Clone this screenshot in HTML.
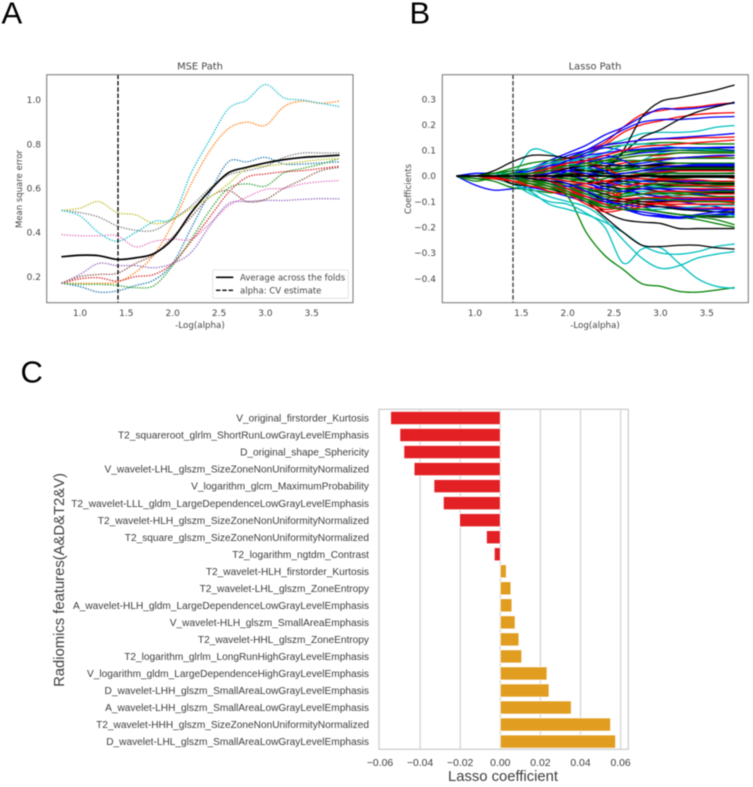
<!DOCTYPE html>
<html lang="en">
<head>
<meta charset="utf-8">
<title>Radiomics LASSO figure</title>
<style>
html,body{margin:0;padding:0;background:#fff;width:753px;height:787px;overflow:hidden}
svg{display:block;filter:blur(0.4px)}
.dj{font-family:"DejaVu Sans",sans-serif;fill:#454545}
.li{font-family:"Liberation Sans",sans-serif;fill:#3e3e3e}
.panel{font-family:"Liberation Sans",sans-serif;fill:#000;font-size:31px}
</style>
</head>
<body>
<svg id="fig" xmlns="http://www.w3.org/2000/svg" width="753" height="787" viewBox="0 0 753 787">
  <rect width="753" height="787" fill="#fff"/>
  <text class="panel" x="1.5" y="23.5">A</text>
  <text class="panel" x="409.5" y="23.5">B</text>
  <text class="panel" x="20.5" y="382.5">C</text>

  <g id="chartA">
    <text class="dj" x="200" y="69.5" font-size="9.9" text-anchor="middle">MSE Path</text>
    <text class="dj" x="200" y="328" font-size="8.7" text-anchor="middle">-Log(alpha)</text>
    <text class="dj" transform="translate(22,189) rotate(-90)" font-size="8.5" text-anchor="middle">Mean square error</text>
  </g>
  <g id="chartB">
    <text class="dj" x="595" y="69.5" font-size="9.9" text-anchor="middle">Lasso Path</text>
    <text class="dj" x="595" y="328" font-size="8.7" text-anchor="middle">-Log(alpha)</text>
    <text class="dj" transform="translate(411,189) rotate(-90)" font-size="8.5" text-anchor="middle">Coefficients</text>
  </g>
  <g id="chartC">
    <text class="li" transform="translate(64,580) rotate(-90)" font-size="14.8" text-anchor="middle">Radiomics features(A&amp;D&amp;T2&amp;V)</text>
    <text class="li" x="503" y="781" font-size="14.8" text-anchor="middle">Lasso coefficient</text>
  </g>
</svg>
<script>
// ---------- Panel A data ----------
const alphaGrid = [0.8,1.0,1.2,1.4,1.6,1.8,2.0,2.2,2.4,2.6,2.8,3.0,3.2,3.4,3.6,3.8];
const mseMean   = [.29,.297,.295,.278,.285,.305,.37,.49,.59,.67,.695,.715,.73,.74,.745,.75];
const mseBlue   = [.17,.155,.13,.135,.16,.185,.26,.42,.58,.72,.72,.74,.71,.71,.715,.72];
const mseOrange = [.17,.17,.17,.175,.22,.30,.44,.62,.77,.87,.90,.885,.97,.995,.985,.995];
const mseGreen  = [.17,.165,.165,.16,.15,.16,.25,.37,.50,.60,.62,.61,.67,.69,.71,.735];
const mseRed    = [.17,.19,.195,.18,.20,.21,.26,.36,.47,.58,.65,.665,.675,.68,.69,.70];
const msePurple = [.17,.21,.26,.25,.25,.24,.26,.31,.43,.53,.54,.545,.545,.55,.553,.552];
const mseBrown  = [.17,.20,.21,.215,.26,.30,.38,.47,.56,.59,.54,.55,.60,.64,.68,.695];
const msePink   = [.39,.385,.385,.385,.335,.36,.37,.37,.44,.52,.56,.595,.60,.62,.63,.635];
const mseGray   = [.50,.49,.47,.43,.41,.41,.46,.52,.60,.66,.68,.70,.74,.76,.76,.76];
const mseOlive  = [.50,.51,.54,.49,.48,.44,.46,.51,.56,.62,.69,.70,.71,.72,.73,.735];
const mseCyan   = [.50,.475,.40,.36,.40,.45,.47,.67,.82,.96,1.0,1.07,1.01,1.0,.985,.97];
const mseTicksX = [1.0,1.5,2.0,2.5,3.0,3.5];
const mseTicksY = [0.2,0.4,0.6,0.8,1.0];
const alphaCV   = [1.41];

// ---------- Panel B data ----------
const lassoBlue = [
[0,-.035,-.055,-.05,-.045,-.06,-.08,-.10,-.12,-.13,-.15,-.16,-.165,-.16,-.155,-.15],
[0,.01,.01,.02,.03,.06,.09,.12,.16,.19,.23,.262,.26,.265,.275,.285],
[0,0,0,0,.02,.04,.07,.10,.14,.18,.21,.22,.22,.225,.23,.232],
[0,0,0,.01,.03,.05,.08,.10,.12,.13,.14,.145,.15,.155,.16,.166],
[0,0,0,0,.01,.03,.05,.09,.11,.10,.10,.105,.11,.11,.112,.113],
[0,0,0,0,.01,.02,.04,.05,.07,.08,.09,.095,.10,.10,.10,.10],
[0,0,0,0,-.01,.01,.03,.03,.02,.03,.04,.05,.05,.05,.05,.05],
[0,0,0,0,0,-.01,.01,.02,0,-.01,.01,.02,.02,.03,.03,.03],
[0,0,0,-.01,0,.02,.02,0,-.03,-.02,0,.01,.01,.01,.01,.01],
[0,0,0,0,-.01,-.02,-.03,-.05,-.04,-.03,-.04,-.05,-.06,-.07,-.08,-.085],
[0,0,0,0,-.01,-.03,-.05,-.07,-.08,-.09,-.09,-.095,-.10,-.11,-.12,-.135],
[0,0,0,-.01,-.02,-.04,-.06,-.09,-.11,-.13,-.14,-.15,-.16,-.155,-.15,-.145],
[0,0,0,0,.01,.02,.01,-.02,-.06,-.05,-.07,-.08,-.09,-.09,-.09,-.09],
[0,0,0,.01,.02,.04,.05,.06,.05,.04,.05,.06,.07,.075,.08,.08],
[0,0,0,0,0,.01,.03,.06,.08,.06,.03,.03,.035,.04,.04,.04],
[0,0,0,0,-.01,-.01,.02,.04,.02,-.01,-.02,-.02,-.02,-.02,-.02,-.02],
[0,0,0,0,-.01,-.03,-.04,-.03,-.05,-.06,-.05,-.05,-.05,-.055,-.055,-.055],
[0,0,0,-.01,-.01,-.02,-.05,-.08,-.10,-.11,-.12,-.12,-.125,-.13,-.13,-.13],
[0,0,0,0,0,-.01,-.03,-.06,-.09,-.12,-.15,-.155,-.16,-.15,-.14,-.13],
[0,0,0,0,.01,.03,.06,.08,.09,.10,.105,.11,.11,.11,.11,.11],
[0,0,0,0,0,.01,.02,.01,0,.01,.02,.035,.04,.045,.045,.045]
];
const lassoRed = [
[0,0,0,-.01,.01,.04,.07,.10,.13,.19,.24,.255,.265,.27,.28,.285],
[0,0,0,0,.02,.05,.07,.08,.12,.17,.20,.215,.23,.24,.245,.247],
[0,0,0,0,.02,.04,.06,.09,.12,.13,.14,.145,.145,.15,.15,.152],
[0,0,0,0,.01,.03,.07,.07,.06,.07,.08,.08,.09,.09,.09,.09],
[0,0,-.01,.01,0,.03,.04,.02,.01,.02,.03,.04,.04,.04,.04,.04],
[0,0,0,-.01,-.02,-.01,0,-.02,-.03,-.05,-.02,-.01,-.01,0,0,-.01],
[0,0,0,0,-.01,-.03,-.05,-.06,-.05,-.07,-.04,-.02,-.02,-.025,-.03,-.03],
[0,0,-.01,-.02,-.03,-.06,-.07,-.08,-.09,-.06,-.05,-.05,-.05,-.05,-.05,-.05],
[0,0,0,-.02,-.04,-.05,-.05,-.09,-.10,-.10,-.09,-.08,-.075,-.07,-.07,-.07],
[0,0,0,-.01,-.03,-.05,-.06,-.10,-.13,-.12,-.10,-.10,-.095,-.095,-.095,-.095],
[0,0,0,-.01,-.02,-.03,-.07,-.11,-.14,-.13,-.11,-.11,-.11,-.11,-.11,-.11],
[0,0,0,0,-.01,-.02,-.04,-.06,-.08,-.09,-.10,-.11,-.12,-.125,-.125,-.125],
[0,0,0,0,.01,.02,.05,.05,.04,.05,.06,.065,.07,.075,.075,.08],
[0,0,0,0,0,.02,.03,.04,.03,0,.01,.015,.02,.02,.02,.02],
[0,0,0,0,-.01,.01,.02,0,-.02,-.04,-.03,-.03,-.035,-.035,-.04,-.04],
[0,0,-.005,-.01,-.01,-.02,-.03,-.04,-.06,-.08,-.07,-.06,-.06,-.06,-.06,-.06],
[0,0,0,-.01,-.02,-.04,-.06,-.08,-.10,-.09,-.085,-.085,-.085,-.085,-.085,-.085],
[0,0,0,0,-.01,-.02,-.05,-.08,-.11,-.13,-.12,-.105,-.10,-.10,-.10,-.10],
[0,0,0,0,0,-.01,-.02,-.03,-.02,-.01,-.01,-.015,-.015,-.015,-.02,-.02],
[0,0,0,0,.01,.03,.05,.06,.08,.10,.115,.12,.125,.13,.135,.14]
];
const lassoGreen = [
[0,-.01,-.02,-.045,-.055,-.065,-.08,-.22,-.31,-.365,-.42,-.43,-.45,-.453,-.445,-.435],
[0,-.02,-.01,-.03,-.03,-.04,-.06,-.08,-.10,-.12,-.14,-.15,-.16,-.17,-.185,-.20],
[0,-.01,-.01,-.02,-.03,-.05,-.05,-.07,-.09,-.11,-.12,-.14,-.15,-.16,-.17,-.19],
[0,0,.01,.03,.05,.06,.07,.09,.11,.12,.125,.13,.13,.125,.125,.125],
[0,0,.01,.02,.03,.05,.05,.06,.07,.09,.10,.11,.11,.105,.105,.10],
[0,0,0,.01,.02,.03,.02,.03,.05,.07,.08,.085,.09,.09,.09,.09],
[0,0,0,0,.01,.02,0,-.01,.02,.04,.06,.07,.07,.07,.07,.07],
[0,0,0,0,0,-.01,-.02,-.01,.01,.02,.03,.035,.04,.04,.04,.04],
[0,0,0,.01,0,-.01,-.03,-.03,-.02,-.01,0,.01,.02,.02,.02,.02],
[0,0,0,0,-.01,-.02,-.04,-.06,-.05,-.03,-.02,-.015,-.01,-.005,-.005,-.005],
[0,0,0,-.01,-.02,-.03,-.04,-.08,-.09,-.07,-.06,-.065,-.07,-.075,-.08,-.08],
[0,0,0,-.01,-.03,-.05,-.06,-.09,-.11,-.11,-.10,-.11,-.125,-.13,-.14,-.14],
[0,0,0,0,-.01,-.02,-.04,-.07,-.07,-.06,-.05,-.045,-.04,-.04,-.035,-.035],
[0,0,0,.01,.01,.03,.04,.05,.06,.06,.06,.055,.05,.05,.05,.05],
[0,0,0,0,.01,.01,.01,.02,.03,.03,.03,.03,.03,.03,.03,.03],
[0,0,0,0,0,-.01,-.01,-.02,-.01,.01,.01,.01,.01,.01,.01,.01],
[0,0,0,-.01,-.01,-.02,-.03,-.05,-.06,-.05,-.04,-.03,-.03,-.025,-.025,-.025],
[0,0,0,0,-.01,-.03,-.05,-.07,-.08,-.08,-.07,-.07,-.065,-.065,-.06,-.06],
[0,0,0,-.01,-.02,-.03,-.06,-.10,-.12,-.11,-.09,-.09,-.095,-.10,-.10,-.105],
[0,0,0,0,-.02,-.04,-.07,-.09,-.12,-.13,-.13,-.14,-.15,-.155,-.155,-.16],
[0,0,0,0,.01,.02,.04,.04,.06,.08,.095,.10,.10,.098,.096,.095]
];
const lassoCyan = [
[0,.01,.01,0,.10,.09,.05,.02,.01,.03,.06,.09,.10,.10,.10,.10],
[0,0,.01,.01,.02,.04,.05,.08,.12,.14,.165,.17,.17,.175,.19,.197],
[0,0,0,-.03,-.07,-.10,-.11,-.145,-.20,-.34,-.285,-.28,-.34,-.40,-.43,-.438],
[0,0,0,-.02,-.05,-.08,-.10,-.12,-.17,-.25,-.32,-.36,-.35,-.32,-.305,-.295],
[0,0,-.01,-.03,-.06,-.11,-.13,-.15,-.18,-.22,-.27,-.30,-.305,-.295,-.275,-.265],
[0,0,0,0,.03,.05,.06,.05,.02,-.03,-.04,-.04,-.04,-.04,-.045,-.05],
[0,0,0,0,.01,.03,.05,.03,-.03,-.06,-.08,-.10,-.12,-.13,-.14,-.155],
[0,0,0,0,-.01,-.02,-.05,-.07,-.10,-.07,-.02,0,.02,.02,.02,.02],
[0,0,0,0,.01,.02,.03,.03,0,-.02,-.02,-.03,-.03,-.03,-.03,-.03],
[0,0,0,0,0,.01,.02,.04,.05,.04,.03,.03,.03,.035,.035,.035],
[0,0,0,0,-.01,-.03,-.06,-.08,-.11,-.08,-.06,-.07,-.08,-.085,-.09,-.09],
[0,0,0,0,-.01,-.02,-.03,-.05,-.09,-.12,-.13,-.13,-.125,-.12,-.115,-.115],
[0,0,0,0,.02,.04,.06,.07,.09,.12,.125,.12,.11,.105,.10,.095]
];
const lassoBlack = [
[0,0,0,0,0,0,0,0,0,0,0,0,0,0,0,0],
[0,0,0,0,0,0,0,0,.02,.10,.23,.29,.305,.32,.335,.355],
[0,0,0,0,0,0,0,0,.03,.09,.15,.18,.22,.25,.27,.288],
[0,0,.02,.055,.08,.08,.07,.06,.05,.06,.06,.065,.07,.07,.07,.07],
[0,0,0,-.03,-.04,-.05,-.07,-.10,-.16,-.22,-.27,-.275,-.27,-.27,-.28,-.285],
[0,0,0,-.01,-.03,-.05,-.07,-.09,-.14,-.17,-.18,-.185,-.205,-.205,-.205,-.205],
[0,0,0,0,-.01,-.02,-.04,-.06,-.10,-.12,-.13,-.14,-.15,-.155,-.16,-.16],
[0,0,0,0,0,-.01,-.02,-.03,-.05,-.06,-.07,-.08,-.085,-.085,-.09,-.09],
[0,0,0,0,0,0,.01,0,-.02,-.02,-.03,-.035,-.04,-.04,-.04,-.04],
[0,0,0,0,.01,.02,.03,.02,.02,.03,.04,.045,.05,.05,.05,.05],
[0,0,0,0,0,0,0,0,0,0,.005,.01,.01,.01,.01,.012],
[0,0,0,0,0,.01,.02,.02,.01,.01,.02,.025,.025,.025,.025,.025],
[0,0,0,0,0,-.01,-.01,-.02,-.03,-.01,0,-.005,-.005,-.005,-.005,-.005],
[0,0,0,0,0,0,-.01,-.02,-.04,-.05,-.05,-.06,-.06,-.065,-.065,-.065],
[0,0,0,0,-.01,-.02,-.03,-.05,-.07,-.09,-.10,-.10,-.10,-.10,-.10,-.10],
[0,0,0,0,0,.01,.03,.04,.04,.04,.04,.04,.035,.035,.035,.035],
[0,0,0,0,0,0,.005,.01,0,-.01,-.01,-.02,-.025,-.03,-.03,-.03],
[0,0,0,0,-.01,-.02,-.03,-.06,-.09,-.10,-.11,-.12,-.13,-.135,-.14,-.14]
];
const lassoTicksX = [1.0,1.5,2.0,2.5,3.0,3.5];
const lassoTicksY = [-0.4,-0.3,-0.2,-0.1,0.0,0.1,0.2,0.3];

// ---------- Panel C data ----------
const featureNames = [
"V_original_firstorder_Kurtosis",
"T2_squareroot_glrlm_ShortRunLowGrayLevelEmphasis",
"D_original_shape_Sphericity",
"V_wavelet-LHL_glszm_SizeZoneNonUniformityNormalized",
"V_logarithm_glcm_MaximumProbability",
"T2_wavelet-LLL_gldm_LargeDependenceLowGrayLevelEmphasis",
"T2_wavelet-HLH_glszm_SizeZoneNonUniformityNormalized",
"T2_square_glszm_SizeZoneNonUniformityNormalized",
"T2_logarithm_ngtdm_Contrast",
"T2_wavelet-HLH_firstorder_Kurtosis",
"T2_wavelet-LHL_glszm_ZoneEntropy",
"A_wavelet-HLH_gldm_LargeDependenceLowGrayLevelEmphasis",
"V_wavelet-HLH_glszm_SmallAreaEmphasis",
"T2_wavelet-HHL_glszm_ZoneEntropy",
"T2_logarithm_glrlm_LongRunHighGrayLevelEmphasis",
"V_logarithm_gldm_LargeDependenceHighGrayLevelEmphasis",
"D_wavelet-LHH_glszm_SmallAreaLowGrayLevelEmphasis",
"A_wavelet-LHH_glszm_SmallAreaLowGrayLevelEmphasis",
"T2_wavelet-HHH_glszm_SizeZoneNonUniformityNormalized",
"D_wavelet-LHL_glszm_SmallAreaLowGrayLevelEmphasis"
];
const coefValues = [-.0547,-.0501,-.0481,-.043,-.0331,-.0284,-.0203,-.0069,-.003,.003,.0053,.0058,.0074,.0093,.0107,.0233,.0243,.0354,.055,.0575];
const coefTicks = [-0.06,-0.04,-0.02,0.00,0.02,0.04,0.06];

// ---------- helpers ----------
const NS = "http://www.w3.org/2000/svg";
function mk(parent, tag, attrs, text){
  const el = document.createElementNS(NS, tag);
  for (const k in attrs) el.setAttribute(k, attrs[k]);
  if (text !== undefined) el.textContent = text;
  parent.appendChild(el);
  return el;
}
function smoothPath(xs, ys, sx, sy){
  const p = xs.map((x,i)=>[sx(x), sy(ys[i])]);
  let d = "M" + p[0][0].toFixed(2) + " " + p[0][1].toFixed(2);
  for (let i = 0; i < p.length-1; i++){
    const a = p[Math.max(i-1,0)], b = p[i], c = p[i+1], e = p[Math.min(i+2,p.length-1)];
    const c1x = b[0]+(c[0]-a[0])/6, c1y = b[1]+(c[1]-a[1])/6;
    const c2x = c[0]-(e[0]-b[0])/6, c2y = c[1]-(e[1]-b[1])/6;
    d += "C"+c1x.toFixed(2)+" "+c1y.toFixed(2)+" "+c2x.toFixed(2)+" "+c2y.toFixed(2)+" "+c[0].toFixed(2)+" "+c[1].toFixed(2);
  }
  return d;
}
function label(v, digits){
  return (v < 0 ? "\u2212" : "") + Math.abs(v).toFixed(digits);
}

// ---------- Panel A ----------
const gA = document.getElementById("chartA");
const xA = v => 80 + (v-1)*92.7;
const yA = v => 100 + (1-v)*220.8;
const msePalette = [
  [mseBlue,"#1f77b4"],[mseOrange,"#ff7f0e"],[mseGreen,"#2ca02c"],[mseRed,"#d62728"],[msePurple,"#9467bd"],
  [mseBrown,"#8c564b"],[msePink,"#e377c2"],[mseGray,"#7f7f7f"],[mseOlive,"#bcbd22"],[mseCyan,"#17becf"]
];
msePalette.forEach(function(s){
  const el = mk(gA,"path",{d:smoothPath(alphaGrid,s[0],xA,yA),fill:"none",stroke:s[1],"stroke-width":1.3,"stroke-dasharray":"1.4 1.3"});
  
  
});
const meanLine = mk(gA,"path",{d:smoothPath(alphaGrid,mseMean,xA,yA),fill:"none",stroke:"#000","stroke-width":1.7});


const cvA = mk(gA,"line",{x1:xA(alphaCV[0]),x2:xA(alphaCV[0]),y1:74.7,y2:302.7,stroke:"#000","stroke-width":1.3,"stroke-dasharray":"4.4 1.9"});


const frameA = mk(gA,"rect",{x:46.7,y:74.7,width:306.3,height:228,fill:"none",stroke:"#808080","stroke-width":1.1});


mseTicksX.forEach(function(t){
  const el = mk(gA,"text",{class:"dj",x:xA(t),y:316,"font-size":9,"text-anchor":"middle"},t.toFixed(1));
  
  
});
mseTicksY.forEach(function(t){
  const el = mk(gA,"text",{class:"dj",x:41,y:yA(t)+3.2,"font-size":9,"text-anchor":"end"},t.toFixed(1));
  
  
});
const legend = mk(gA,"g",{});


const legendBox = mk(legend,"rect",{x:212.7,y:270,width:135.6,height:28.3,rx:1.5,fill:"#fff",stroke:"#ddd","stroke-width":.8});


const legLine1 = mk(legend,"line",{x1:216,x2:233.3,y1:277.3,y2:277.3,stroke:"#000","stroke-width":1.7});


const legLine2 = mk(legend,"line",{x1:216,x2:233.3,y1:290.3,y2:290.3,stroke:"#000","stroke-width":1.3,"stroke-dasharray":"4.4 1.9"});


const legText1 = mk(legend,"text",{class:"dj",x:240,y:280.4,"font-size":8.55},"Average across the folds");


const legText2 = mk(legend,"text",{class:"dj",x:240,y:293.4,"font-size":8.55},"alpha: CV estimate");



// ---------- Panel B ----------
const gB = document.getElementById("chartB");
const xB = v => 475 + (v-1)*92.7;
const yB = v => 176 - v*256.4;
const lassoGroups = [[lassoBlue,"#0000ff"],[lassoGreen,"#008000"],[lassoRed,"#ff0000"],[lassoCyan,"#00bfbf"],[lassoBlack,"#000000"]];
const longest = Math.max(lassoBlue.length,lassoGreen.length,lassoRed.length,lassoCyan.length,lassoBlack.length);
for (let i = 0; i < longest; i++){
  lassoGroups.forEach(function(g){
    if (!g[0][i]) return;
    const el = mk(gB,"path",{d:smoothPath(alphaGrid,g[0][i],xB,yB),fill:"none",stroke:g[1],"stroke-width":1.3});
    
    
  });
}
const zeroLine = mk(gB,"path",{d:smoothPath(alphaGrid,lassoBlack[0],xB,yB),fill:"none",stroke:"#000","stroke-width":1.9});


const cvB = mk(gB,"line",{x1:xB(alphaCV[0]),x2:xB(alphaCV[0]),y1:74.7,y2:302.7,stroke:"#333","stroke-width":1.3,"stroke-dasharray":"4.4 1.9"});


const frameB = mk(gB,"rect",{x:442.3,y:74.7,width:306,height:228,fill:"none",stroke:"#808080","stroke-width":1.1});


lassoTicksX.forEach(function(t){
  const el = mk(gB,"text",{class:"dj",x:xB(t),y:316,"font-size":9,"text-anchor":"middle"},t.toFixed(1));
  
  
});
lassoTicksY.forEach(function(t){
  const el = mk(gB,"text",{class:"dj",x:436,y:yB(t)+3.2,"font-size":9,"text-anchor":"end"},label(t,1));
  
  
});

// ---------- Panel C ----------
const gC = document.getElementById("chartC");
const xC = v => 500.3 + v*2005;
const rowC = i => 418 + i*17.03;
coefTicks.forEach(function(t){
  if (t !== coefTicks[0]) {
    const grid = mk(gC,"line",{x1:xC(t),x2:xC(t),y1:409.3,y2:749.3,stroke:"#d2d2d2","stroke-width":1.2});
    
    
  }
  const el = mk(gC,"text",{class:"li",x:xC(t),y:766,"font-size":10.4,"text-anchor":"middle"},label(t,2));
  
  
});
const frameC = mk(gC,"rect",{x:379,y:409.3,width:249.3,height:340,fill:"none",stroke:"#cfcfcf","stroke-width":1.3});


coefValues.forEach(function(v,i){
  const x0 = xC(Math.min(v,0)), w = Math.abs(xC(v)-xC(0));
  const bar = mk(gC,"rect",{x:x0,y:rowC(i)-6.6,width:w,height:13.2,fill:v<0?"#e32024":"#e09d20",stroke:"#fff","stroke-width":.8});
  
  
  const t = mk(gC,"text",{class:"li",x:369,y:rowC(i)+3.6,"font-size":10.15,"text-anchor":"end"},featureNames[i]);
  
  
});
</script>
</body>
</html>
